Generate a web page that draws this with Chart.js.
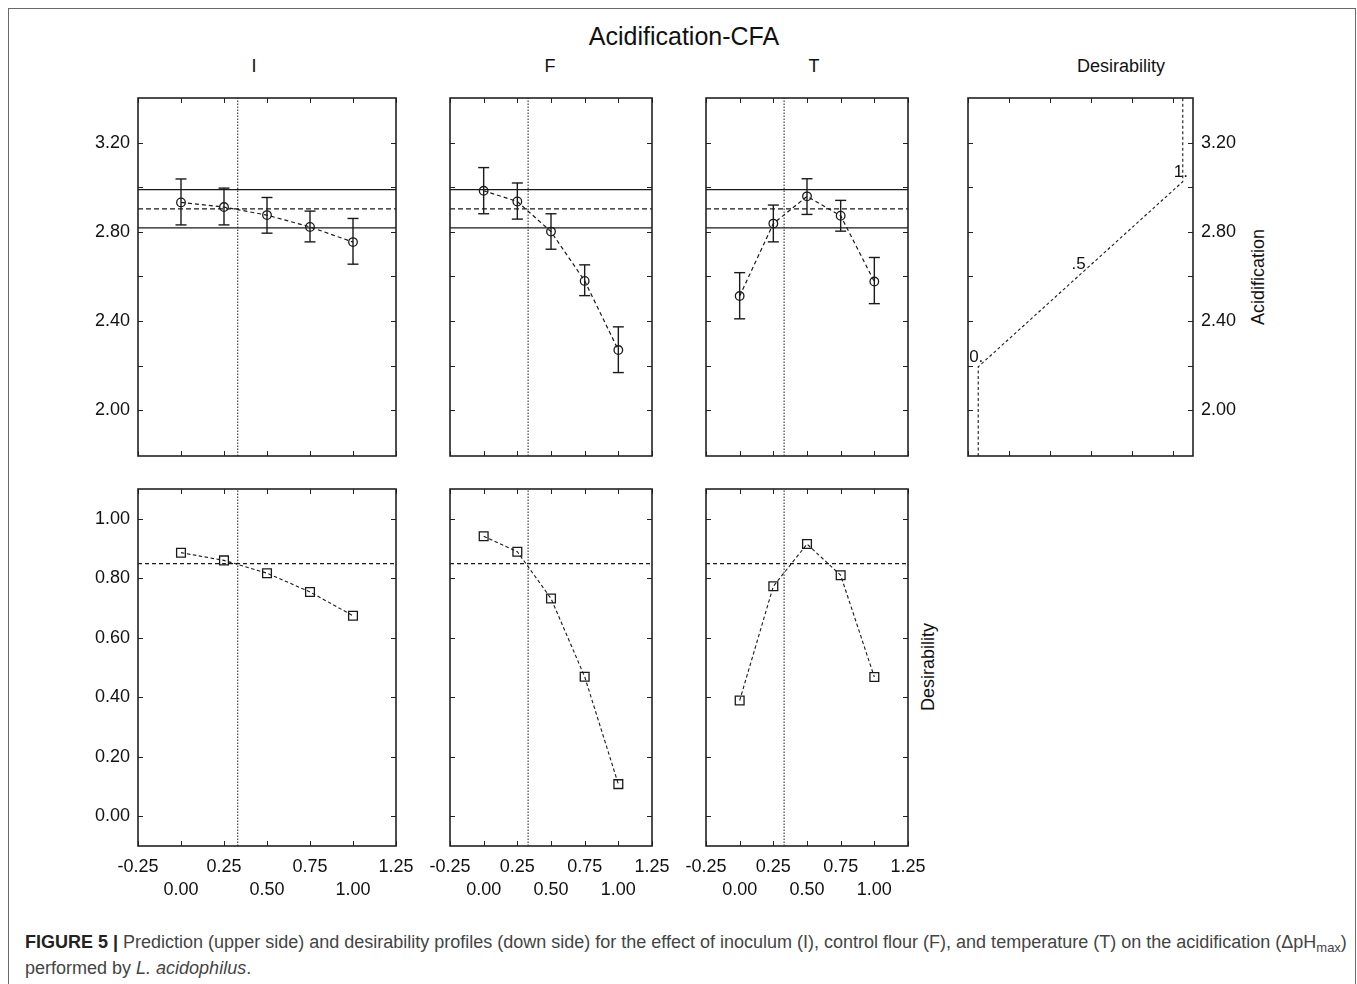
<!DOCTYPE html>
<html>
<head>
<meta charset="utf-8">
<script src="https://cdn.jsdelivr.net/npm/chart.js@4/dist/chart.umd.min.js"></script>
<style>
  html,body{margin:0;padding:0;background:#fff;}
  body{width:1357px;height:984px;overflow:hidden;position:relative;font-family:"Liberation Sans",Arial,sans-serif;}
  .frame{position:absolute;left:8px;top:8px;width:1346px;height:1010px;border:1px solid #6a6a6a;}
  .cv{position:absolute;}
  .t{position:absolute;color:#111;white-space:nowrap;line-height:1;}
  .cap{position:absolute;left:25px;font-size:18px;color:#444;white-space:nowrap;line-height:1;}
  .cap b{color:#222;}
  .cap sub{font-size:13px;vertical-align:-4px;line-height:0;}
</style>
</head>
<body>
<div class="frame"></div>
<div class="t" style="left:684px;top:36px;font-size:25px;transform:translate(-50%,-50%);">Acidification-CFA</div>
<div class="t" style="left:254px;top:66px;font-size:18px;transform:translate(-50%,-50%);">I</div>
<div class="t" style="left:550px;top:66px;font-size:18px;transform:translate(-50%,-50%);">F</div>
<div class="t" style="left:814px;top:66px;font-size:18px;transform:translate(-50%,-50%);">T</div>
<div class="t" style="left:1121px;top:66px;font-size:18px;transform:translate(-50%,-50%);">Desirability</div>
<div class="t" style="left:1258px;top:277px;font-size:18px;transform:translate(-50%,-50%) rotate(-90deg);">Acidification</div>
<div class="t" style="left:928px;top:667px;font-size:18px;transform:translate(-50%,-50%) rotate(-90deg);">Desirability</div>
<div class="cap" style="top:933px;"><b>FIGURE 5 |</b> Prediction (upper side) and desirability profiles (down side) for the effect of inoculum (I), control flour (F), and temperature (T) on the acidification (&Delta;pH<sub>max</sub>)</div>
<div class="cap" style="top:959px;">performed by <i>L. acidophilus</i>.</div>

<script>
// ---------- data ----------
const xLevels = [0, 0.25, 0.5, 0.75, 1.0];
const currentLevel = 0.33;

const xTicks = [-0.25, 0, 0.25, 0.5, 0.75, 1.0, 1.25];
const xTickRow1 = ['-0.25', '', '0.25', '', '0.75', '', '1.25'];
const xTickRow2 = ['', '0.00', '', '0.50', '', '1.00', ''];

const accYTicks = [2.0, 2.2, 2.4, 2.6, 2.8, 3.0, 3.2];
const accYLabels = ['2.00', '', '2.40', '', '2.80', '', '3.20'];
const desYTicks = [0, 0.2, 0.4, 0.6, 0.8, 1.0];
const desYLabels = ['0.00', '0.20', '0.40', '0.60', '0.80', '1.00'];

// Acidification predictions (upper row) with confidence limits
const accI     = [2.932, 2.911, 2.875, 2.822, 2.754];
const accIHigh = [3.037, 2.996, 2.954, 2.893, 2.860];
const accILow  = [2.831, 2.831, 2.794, 2.755, 2.655];
const accF     = [2.984, 2.936, 2.801, 2.580, 2.270];
const accFHigh = [3.088, 3.019, 2.881, 2.652, 2.374];
const accFLow  = [2.881, 2.857, 2.722, 2.514, 2.169];
const accT     = [2.512, 2.837, 2.959, 2.872, 2.577];
const accTHigh = [2.617, 2.920, 3.038, 2.941, 2.685];
const accTLow  = [2.410, 2.755, 2.878, 2.803, 2.478];
const accPred = 2.903;
const accCIHigh = 2.989;
const accCILow = 2.818;

// Desirability profiles (lower row)
const desI = [0.886, 0.860, 0.817, 0.754, 0.674];
const desF = [0.941, 0.889, 0.732, 0.469, 0.108];
const desT = [0.389, 0.773, 0.915, 0.810, 0.468];
const desOverall = 0.849;

// Desirability function for acidification (right panel)
const desFuncX = [0, 0, 0.5, 1, 1];
const desFuncY = [1.795, 2.195, 2.61, 3.025, 3.40];
const desFuncLabels = ['', '0.', '.5', '1.', ''];
const desFuncXTicks = [-0.05, 0.15, 0.35, 0.55, 0.75, 0.95];

const accRange = [1.795, 3.40];
const desRange = [-0.10, 1.10];
const xRange = [-0.25, 1.25];
const desFuncXRange = [-0.05, 1.05];

// ---------- helpers ----------
const FONT = '"Liberation Sans", Arial, sans-serif';
Chart.defaults.font.family = FONT;
Chart.defaults.font.size = 18;
Chart.defaults.color = '#111';
const INK = '#1a1a1a';

const framePlugin = {
  id: 'frameTicks',
  afterDraw(chart) {
    const ctx = chart.ctx, a = chart.chartArea;
    const xs = chart.scales.x, ys = chart.scales.y;
    ctx.save();
    ctx.strokeStyle = '#222';
    ctx.lineWidth = 1;
    ctx.beginPath();
    xs.ticks.forEach(t => {
      const p = Math.round(xs.getPixelForValue(t.value)) + 0.5;
      ctx.moveTo(p, a.top); ctx.lineTo(p, a.top + 5);
      ctx.moveTo(p, a.bottom); ctx.lineTo(p, a.bottom - 5);
    });
    ys.ticks.forEach(t => {
      const p = Math.round(ys.getPixelForValue(t.value)) + 0.5;
      ctx.moveTo(a.left, p); ctx.lineTo(a.left + 5, p);
      ctx.moveTo(a.right, p); ctx.lineTo(a.right - 5, p);
    });
    ctx.stroke();
    ctx.lineWidth = 1.6;
    ctx.strokeRect(a.left, a.top, a.right - a.left, a.bottom - a.top);
    // point labels (desirability function)
    chart.data.datasets.forEach((ds, di) => {
      if (!ds.pointLabels) return;
      const meta = chart.getDatasetMeta(di);
      ctx.fillStyle = '#111';
      ctx.font = '17px ' + FONT;
      ctx.textAlign = 'center';
      ctx.textBaseline = 'bottom';
      meta.data.forEach((el, i) => {
        const lbl = ds.pointLabels[i];
        if (lbl) ctx.fillText(lbl, el.x - 2, el.y - 1);
      });
    });
    ctx.restore();
  }
};

function makeCanvas(l, t, w, h) {
  const c = document.createElement('canvas');
  c.className = 'cv';
  c.width = w; c.height = h;
  c.style.left = l + 'px'; c.style.top = t + 'px';
  c.style.width = w + 'px'; c.style.height = h + 'px';
  document.body.appendChild(c);
  return c;
}

function panel(o) {
  const A = o.area;
  const ML = o.ml, MR = o.mr, MT = 30, MB = o.mb;
  const cl = A.l - ML, ct = A.t - MT, cw = (A.r + MR) - cl, ch = (A.b + MB) - ct;
  const canvas = makeCanvas(cl, ct, cw, ch);
  const yRight = o.yPos === 'right';
  const xt = o.xTicks, xl1 = o.xRow1, xl2 = o.xRow2;
  new Chart(canvas, {
    type: 'scatter',
    data: { datasets: o.datasets },
    options: {
      responsive: false,
      animation: false,
      events: [],
      layout: { padding: { top: MT, right: yRight ? 0 : MR, left: yRight ? ML : 0, bottom: 0 } },
      plugins: { legend: { display: false }, tooltip: { enabled: false } },
      scales: {
        x: {
          type: 'linear', position: 'bottom',
          min: o.xRange[0], max: o.xRange[1],
          afterBuildTicks: s => { s.ticks = xt.map(v => ({ value: v })); },
          afterFit: s => { s.height = MB; },
          grid: { display: false, drawTicks: false },
          border: { display: false },
          ticks: {
            display: !!o.showX, autoSkip: false, maxRotation: 0, minRotation: 0,
            padding: 10, color: '#111',
            font: { size: 18, lineHeight: 1.25 },
            callback: (v, i) => o.showX ? [xl1[i], xl2[i]] : ''
          }
        },
        y: {
          type: 'linear', position: yRight ? 'right' : 'left',
          min: o.yRange[0], max: o.yRange[1],
          afterBuildTicks: s => { s.ticks = o.yTicks.map(v => ({ value: v })); },
          afterFit: s => { s.width = yRight ? MR : ML; },
          grid: { display: false, drawTicks: false },
          border: { display: false },
          ticks: {
            display: !!o.showY, autoSkip: false, padding: 8, color: '#111',
            font: { size: 18 },
            callback: (v, i) => o.yLabels[i]
          }
        }
      }
    },
    plugins: [framePlugin]
  });
}

function pts(xs, ys) { return xs.map((x, i) => ({ x: x, y: ys[i] })); }

function accDatasets(center, hi, lo) {
  const ds = [];
  ds.push({ data: pts(xLevels, center), showLine: true, borderColor: INK, borderWidth: 1.2,
    borderDash: [4, 3], pointStyle: 'circle', pointRadius: 4.3, pointBorderWidth: 1.3,
    pointBorderColor: INK, pointBackgroundColor: 'rgba(255,255,255,0)', order: 0 });
  xLevels.forEach((x, i) => {
    ds.push({ data: [{ x: x, y: lo[i] }, { x: x, y: hi[i] }], showLine: true,
      borderColor: INK, borderWidth: 1.4, pointStyle: 'line', pointRadius: 5.5,
      pointBorderWidth: 1.4, pointBorderColor: INK, order: 1 });
  });
  ds.push({ data: [{ x: xRange[0], y: accCIHigh }, { x: xRange[1], y: accCIHigh }], showLine: true,
    borderColor: INK, borderWidth: 1.2, pointRadius: 0, order: 2 });
  ds.push({ data: [{ x: xRange[0], y: accCILow }, { x: xRange[1], y: accCILow }], showLine: true,
    borderColor: INK, borderWidth: 1.2, pointRadius: 0, order: 2 });
  ds.push({ data: [{ x: xRange[0], y: accPred }, { x: xRange[1], y: accPred }], showLine: true,
    borderColor: INK, borderWidth: 1.2, borderDash: [5, 3], pointRadius: 0, order: 2 });
  ds.push({ data: [{ x: currentLevel, y: accRange[0] }, { x: currentLevel, y: accRange[1] }], showLine: true,
    borderColor: INK, borderWidth: 1, borderDash: [1.5, 1.5], pointRadius: 0, order: 3 });
  return ds;
}

function desDatasets(vals) {
  return [
    { data: pts(xLevels, vals), showLine: true, borderColor: INK, borderWidth: 1.1,
      borderDash: [3.5, 2.5], pointStyle: 'rect', pointRadius: 6.2, pointBorderWidth: 1.3,
      pointBorderColor: INK, pointBackgroundColor: 'rgba(255,255,255,0)', order: 0 },
    { data: [{ x: xRange[0], y: desOverall }, { x: xRange[1], y: desOverall }], showLine: true,
      borderColor: INK, borderWidth: 1.1, borderDash: [4, 3], pointRadius: 0, order: 2 },
    { data: [{ x: currentLevel, y: desRange[0] }, { x: currentLevel, y: desRange[1] }], showLine: true,
      borderColor: INK, borderWidth: 1, borderDash: [1.5, 1.5], pointRadius: 0, order: 3 }
  ];
}

// ---------- upper row ----------
const accCommon = { xRange: xRange, xTicks: xTicks, xRow1: xTickRow1, xRow2: xTickRow2,
  yRange: accRange, yTicks: accYTicks, yLabels: accYLabels, mb: 30 };
panel(Object.assign({}, accCommon, { area: { l: 138, t: 98, r: 396, b: 456 }, ml: 80, mr: 30, showY: true,
  datasets: accDatasets(accI, accIHigh, accILow) }));
panel(Object.assign({}, accCommon, { area: { l: 450, t: 98, r: 652, b: 456 }, ml: 40, mr: 30,
  datasets: accDatasets(accF, accFHigh, accFLow) }));
panel(Object.assign({}, accCommon, { area: { l: 706, t: 98, r: 908, b: 456 }, ml: 40, mr: 30,
  datasets: accDatasets(accT, accTHigh, accTLow) }));

// desirability function panel
panel({ area: { l: 968, t: 98, r: 1193, b: 456 }, ml: 30, mr: 60, mb: 30, yPos: 'right', showY: true,
  xRange: desFuncXRange, xTicks: desFuncXTicks, xRow1: [], xRow2: [],
  yRange: accRange, yTicks: accYTicks, yLabels: accYLabels,
  datasets: [{ data: pts(desFuncX, desFuncY), pointLabels: desFuncLabels, showLine: true,
    borderColor: INK, borderWidth: 1.1, borderDash: [3, 2.5], pointRadius: 0 }] });

// ---------- lower row ----------
const desCommon = { xRange: xRange, xTicks: xTicks, xRow1: xTickRow1, xRow2: xTickRow2, showX: true,
  yRange: desRange, yTicks: desYTicks, yLabels: desYLabels, mb: 60 };
panel(Object.assign({}, desCommon, { area: { l: 138, t: 489, r: 396, b: 846 }, ml: 80, mr: 30, showY: true,
  datasets: desDatasets(desI) }));
panel(Object.assign({}, desCommon, { area: { l: 450, t: 489, r: 652, b: 846 }, ml: 40, mr: 30,
  datasets: desDatasets(desF) }));
panel(Object.assign({}, desCommon, { area: { l: 706, t: 489, r: 908, b: 846 }, ml: 40, mr: 30,
  datasets: desDatasets(desT) }));
</script>
</body>
</html>
